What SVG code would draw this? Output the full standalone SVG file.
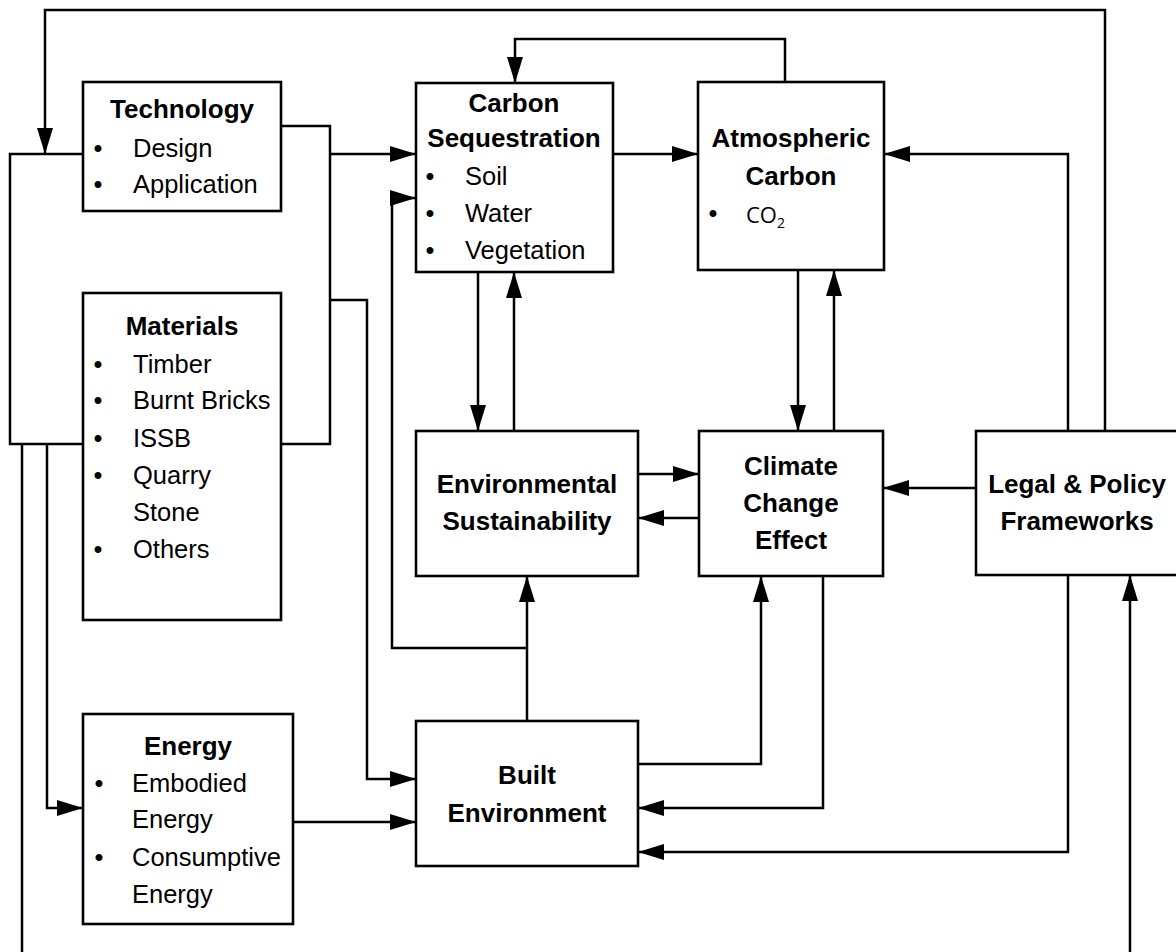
<svg xmlns="http://www.w3.org/2000/svg" width="1176" height="952" viewBox="0 0 1176 952">
<style>
.box{fill:#fff;stroke:#000;stroke-width:2.6}
.c{fill:none;stroke:#000;stroke-width:2.5}
.a{marker-end:url(#arr)}
.b{font-family:"Liberation Sans",Arial,sans-serif;font-weight:bold;font-size:26px;fill:#000;text-anchor:middle}
.r{font-family:"Liberation Sans",Arial,sans-serif;font-size:25.5px;fill:#000}
.bu{font-family:"Liberation Sans",Arial,sans-serif;font-size:25.5px;fill:#000;text-anchor:middle}
.co{font-family:"Open Sans","Noto Sans",sans-serif;font-size:22px;fill:#000}
</style>
<defs>
<marker id="arr" viewBox="0 0 26 16" refX="26" refY="8" markerWidth="26" markerHeight="16" markerUnits="userSpaceOnUse" orient="auto">
<path d="M0,0 L26,8 L0,16 z" fill="#000"/>
</marker>
</defs>
<rect width="1176" height="952" fill="#fff"/>
<g id="connectors">
<path class="c a" d="M1105,431 V10 H45 V154"/>
<path class="c" d="M83,154 H10 V444 H83"/>
<path class="c" d="M22,444 V952"/>
<path class="c a" d="M47,444 V808 H83"/>
<path class="c" d="M281,126 H330 V444 H281"/>
<path class="c a" d="M330,154 H416"/>
<path class="c a" d="M330,300 H367 V779 H416"/>
<path class="c a" d="M613,154 H698"/>
<path class="c a" d="M785,82 V39 H515 V83"/>
<path class="c a" d="M478,272 V431"/>
<path class="c a" d="M514,431 V272"/>
<path class="c a" d="M798,270 V431"/>
<path class="c a" d="M834,431 V270"/>
<path class="c a" d="M638,474 H699"/>
<path class="c a" d="M699,518 H638"/>
<path class="c a" d="M976,488 H883"/>
<path class="c a" d="M1068,431 V154 H884"/>
<path class="c a" d="M527,721 V576"/>
<path class="c a" d="M527,648 H392 V198 H416"/>
<path class="c a" d="M638,764 H761 V576"/>
<path class="c a" d="M823,576 V808 H638"/>
<path class="c a" d="M1068,575 V852 H638"/>
<path class="c a" d="M1130,952 V575"/>
<path class="c a" d="M293,822 H416"/>
</g>
<g id="technology">
<rect class="box" x="83" y="82" width="198" height="129"/>
<text class="b" x="182" y="118">Technology</text>
<text class="bu" x="98" y="157">•</text><text class="r" x="133" y="157">Design</text>
<text class="bu" x="98" y="193">•</text><text class="r" x="133" y="193">Application</text>
</g>
<g id="materials">
<rect class="box" x="83" y="293" width="198" height="327"/>
<text class="b" x="182" y="335">Materials</text>
<text class="bu" x="98" y="373">•</text><text class="r" x="133" y="373">Timber</text>
<text class="bu" x="98" y="409">•</text><text class="r" x="133" y="409">Burnt Bricks</text>
<text class="bu" x="98" y="447">•</text><text class="r" x="133" y="447">ISSB</text>
<text class="bu" x="98" y="484">•</text><text class="r" x="133" y="484">Quarry</text>
<text class="r" x="133" y="521">Stone</text>
<text class="bu" x="98" y="558">•</text><text class="r" x="133" y="558">Others</text>
</g>
<g id="energy">
<rect class="box" x="83" y="714" width="210" height="210"/>
<text class="b" x="188" y="755">Energy</text>
<text class="bu" x="99" y="792">•</text><text class="r" x="132" y="792">Embodied</text>
<text class="r" x="132" y="828">Energy</text>
<text class="bu" x="99" y="866">•</text><text class="r" x="132" y="866">Consumptive</text>
<text class="r" x="132" y="903">Energy</text>
</g>
<g id="carbon-sequestration">
<rect class="box" x="416" y="83" width="197" height="189"/>
<text class="b" x="514" y="112">Carbon</text>
<text class="b" x="514" y="147">Sequestration</text>
<text class="bu" x="430" y="185">•</text><text class="r" x="465" y="185">Soil</text>
<text class="bu" x="430" y="222">•</text><text class="r" x="465" y="222">Water</text>
<text class="bu" x="430" y="259">•</text><text class="r" x="465" y="259">Vegetation</text>
</g>
<g id="atmospheric-carbon">
<rect class="box" x="698" y="82" width="186" height="188"/>
<text class="b" x="791" y="147">Atmospheric</text>
<text class="b" x="791" y="185">Carbon</text>
<text class="bu" x="713" y="222">•</text><text class="co" x="746" y="223">CO<tspan font-size="14" dy="5">2</tspan></text>
</g>
<g id="environmental-sustainability">
<rect class="box" x="416" y="431" width="222" height="145"/>
<text class="b" x="527" y="493">Environmental</text>
<text class="b" x="527" y="530">Sustainability</text>
</g>
<g id="climate-change-effect">
<rect class="box" x="699" y="431" width="184" height="145"/>
<text class="b" x="791" y="475">Climate</text>
<text class="b" x="791" y="512">Change</text>
<text class="b" x="791" y="549">Effect</text>
</g>
<g id="legal-policy">
<rect class="box" x="976" y="431" width="204" height="144"/>
<text class="b" x="1077" y="493">Legal &amp; Policy</text>
<text class="b" x="1077" y="530">Frameworks</text>
</g>
<g id="built-environment">
<rect class="box" x="416" y="721" width="222" height="145"/>
<text class="b" x="527" y="784">Built</text>
<text class="b" x="527" y="822">Environment</text>
</g>
</svg>
